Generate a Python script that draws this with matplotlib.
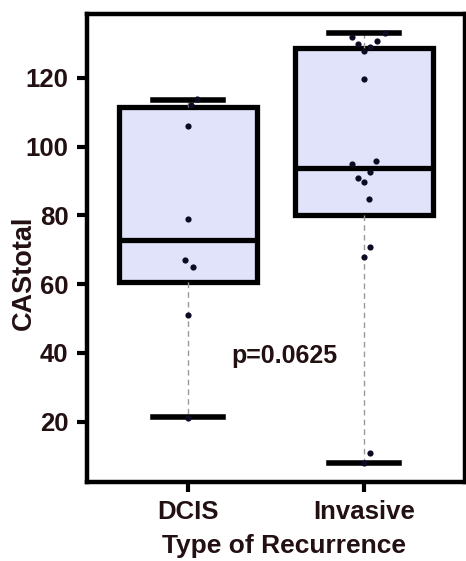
"""Box plot of CAStotal by type of recurrence, with individual points overlaid."""

import matplotlib
matplotlib.use("Agg")
import matplotlib.pyplot as plt

groups = ["DCIS", "Invasive"]

# box summaries: min, q1, median, q3, max
whislo = [21.2, 8.0]
q1 = [60.6, 80.1]
medians = [72.8, 93.7]
q3 = [111.5, 128.7]
whishi = [113.6, 133.0]

# individual observations and their horizontal jitter (in category units)
dcis_vals = [114, 112, 106, 79, 67, 65, 51, 21]
dcis_jitter = [0.05, 0.015, 0.0, 0.0, -0.02, 0.03, 0.0, 0.0]
inv_vals = [133, 132, 130.8, 129.8, 129, 127.7, 119.8, 95.9, 94.9, 92.6,
            90.8, 89.8, 84.8, 70.9, 67.8, 10.9, 8]
inv_jitter = [0.12, -0.07, 0.075, -0.035, 0.035, 0.0, 0.0, 0.07, -0.07, 0.035,
              -0.035, 0.0, 0.027, 0.035, 0.0, 0.035, 0.0]

p_text = "p=0.0625"

TEXT = "#231012"
plt.rcParams["font.family"] = ["Liberation Sans", "DejaVu Sans"]
plt.rcParams["font.weight"] = "bold"

fig = plt.figure(figsize=(4.66, 5.61), dpi=100)
ax = fig.add_axes([0.186, 0.1414, 0.812, 0.8336])

stats = []
for i, name in enumerate(groups):
    stats.append({"label": name, "whislo": whislo[i], "q1": q1[i], "med": medians[i],
                  "q3": q3[i], "whishi": whishi[i], "fliers": []})

ax.bxp(stats, positions=[0, 1], widths=0.78, capwidths=0.4, patch_artist=True,
       showfliers=False,
       boxprops=dict(facecolor="#e1e3fa", edgecolor="black", linewidth=3.8),
       medianprops=dict(color="black", linewidth=3.8),
       whiskerprops=dict(color="#999999", linewidth=1.0, linestyle=(0, (4, 3))),
       capprops=dict(color="black", linewidth=4.0))

for pos, vals, jit in [(0, dcis_vals, dcis_jitter), (1, inv_vals, inv_jitter)]:
    ax.scatter([pos + j for j in jit], vals, s=20, color="#0b0b22", zorder=5,
               linewidths=0)

ax.text(0.548, 39.1, p_text, fontsize=18, fontweight="bold", color=TEXT,
        ha="center", va="center")

ax.set_xlim(-0.576, 1.574)
ax.set_ylim(2.5, 138.6)
ax.set_yticks([20, 40, 60, 80, 100, 120])
ax.set_xticks([0, 1])
ax.set_xticklabels(groups)

for side in ["left", "bottom", "top", "right"]:
    ax.spines[side].set_linewidth(3.2)
    ax.spines[side].set_color("black")
ax.tick_params(axis="both", direction="out", length=7, width=3, color="black",
               labelsize=18.5, labelcolor=TEXT)
ax.tick_params(axis="y", pad=6)
ax.tick_params(axis="x", pad=6.5)
for lab in ax.get_xticklabels() + ax.get_yticklabels():
    lab.set_fontweight("bold")

ax.set_ylabel("CAStotal", fontsize=19.5, fontweight="bold", color=TEXT)
ax.yaxis.set_label_coords(-0.132, 0.446)
ax.set_xlabel("Type of Recurrence", fontsize=19, fontweight="bold", color=TEXT)
ax.xaxis.set_label_coords(0.5215, -0.111)

fig.savefig("out.png", dpi=100)
